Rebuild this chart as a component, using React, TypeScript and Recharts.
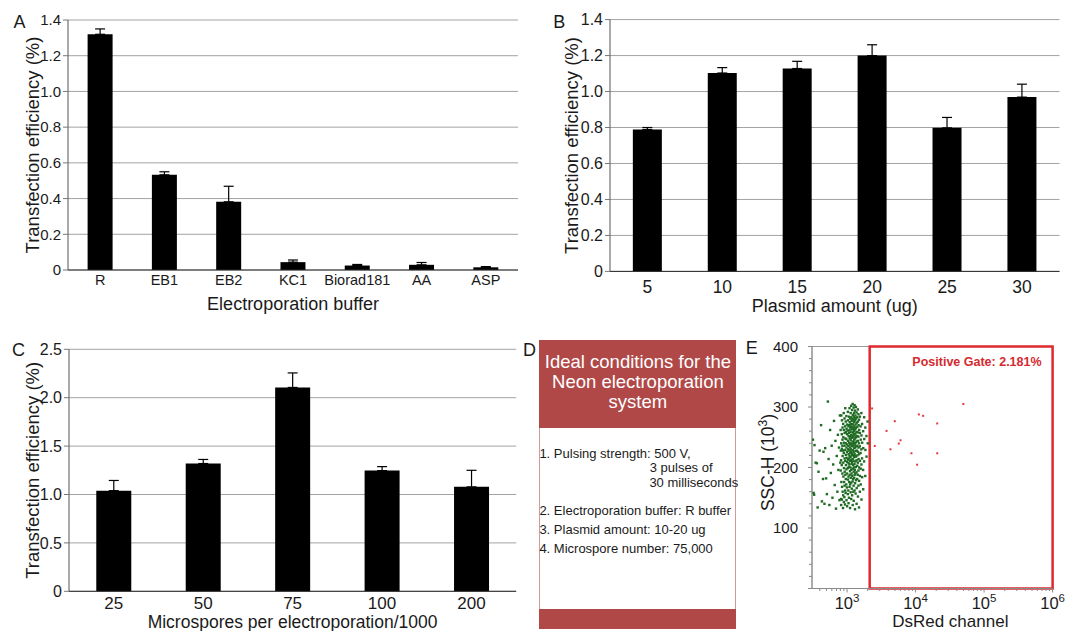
import React from 'react';
import {
  BarChart,
  Bar,
  XAxis,
  YAxis,
  CartesianGrid,
  ErrorBar,
  Label,
  ScatterChart,
  Scatter,
  ReferenceArea,
} from 'recharts';

const FONT = '"Liberation Sans", Arial, Helvetica, sans-serif';
const INK = '#1a1a1a';

// A - electroporation buffer
const bufferNames = ['R', 'EB1', 'EB2', 'KC1', 'Biorad181', 'AA', 'ASP'];
const bufferMeans = [1.32, 0.533, 0.382, 0.044, 0.025, 0.029, 0.015];
const bufferErrors = [0.03, 0.017, 0.087, 0.012, 0.006, 0.013, 0.004];

// B - plasmid amount
const plasmidAmounts = ['5', '10', '15', '20', '25', '30'];
const plasmidMeans = [0.789, 1.103, 1.128, 1.2, 0.798, 0.969];
const plasmidErrors = [0.011, 0.03, 0.04, 0.06, 0.058, 0.072];

// C - microspores per electroporation
const microsporeCounts = ['25', '50', '75', '100', '200'];
const microsporeMeans = [1.04, 1.32, 2.106, 1.247, 1.079];
const microsporeErrors = [0.105, 0.042, 0.15, 0.041, 0.171];

const ticks14 = [0, 0.2, 0.4, 0.6, 0.8, 1.0, 1.2, 1.4];
const ticks25 = [0, 0.5, 1.0, 1.5, 2.0, 2.5];

// D - ideal conditions
const conditionsTitle = ['Ideal conditions for the', 'Neon electroporation', 'system'];

// E - flow cytometry (DsRed channel vs SSC-H)
const gateStart = 2140;
const gatePercent = '2.181%';
const sscTicks = [0, 20, 40, 60, 80, 100, 120, 140, 160, 180, 200, 220, 240, 260, 280, 300, 320, 340, 360, 380, 400];
const dsRedTicks = [
  400, 500, 600, 700, 800, 900, 1000,
  2000, 3000, 4000, 5000, 6000, 7000, 8000, 9000, 10000,
  20000, 30000, 40000, 50000, 60000, 70000, 80000, 90000, 100000,
  200000, 300000, 400000, 500000, 600000, 700000, 800000, 900000, 1000000,
];

const negativeEvents: [number, number][] = [
  // sparse left tail
  [318, 246], [325, 158], [331, 155], [335, 237], [348, 208], [363, 207], [372, 134], [383, 193],
  [398, 228], [418, 270], [430, 144], [446, 181], [453, 226], [468, 140], [480, 232], [495, 182],
  [508, 156], [525, 309], [538, 214], [552, 138], [566, 262], [580, 191], [597, 236], [612, 150],
  [628, 205], [645, 277], [661, 171], [676, 244], [690, 132], [708, 219], [722, 160], [735, 254],
  [748, 196], [762, 233], [775, 146], [786, 286], [798, 208],
  // dense core
  [806, 262], [812, 228], [809, 195], [815, 148],
  [822, 240], [818, 212], [826, 176], [820, 138], [824, 286],
  [838, 255], [842, 231], [836, 204], [845, 168], [840, 147], [843, 278],
  [858, 246], [862, 219], [856, 190], [864, 160], [860, 266], [855, 236],
  [878, 272], [883, 250], [876, 228], [881, 208], [885, 185], [879, 154], [874, 133],
  [898, 262], [903, 241], [896, 224], [902, 199], [905, 176], [899, 143], [894, 290],
  [918, 281], [923, 257], [916, 236], [921, 215], [925, 193], [919, 170], [914, 151],
  [938, 268], [943, 248], [936, 229], [941, 211], [945, 188], [939, 162], [934, 139], [942, 298],
  [958, 276], [963, 259], [956, 240], [961, 221], [965, 204], [959, 181], [954, 158],
  [978, 285], [983, 264], [976, 247], [981, 233], [985, 216], [979, 197], [974, 172], [982, 146],
  [998, 271], [1003, 255], [996, 238], [1001, 226], [1005, 209], [999, 190], [994, 167], [1002, 136],
  [1028, 292], [1033, 278], [1026, 261], [1031, 244], [1035, 230], [1029, 213], [1024, 199], [1032, 180], [1027, 156],
  [1048, 268], [1053, 252], [1046, 236], [1051, 222], [1055, 207], [1049, 185], [1044, 162], [1052, 141],
  [1068, 284], [1073, 270], [1066, 257], [1071, 241], [1075, 228], [1069, 215], [1064, 201], [1072, 176], [1067, 150],
  [1088, 298], [1093, 275], [1086, 262], [1091, 248], [1095, 233], [1089, 219], [1084, 205], [1092, 188], [1087, 168],
  [1108, 281], [1113, 266], [1106, 251], [1111, 238], [1115, 224], [1109, 211], [1104, 194], [1112, 172], [1107, 133],
  [1128, 290], [1133, 272], [1126, 259], [1131, 245], [1135, 230], [1129, 217], [1124, 200], [1132, 183], [1127, 159],
  [1148, 302], [1153, 283], [1146, 268], [1151, 254], [1155, 240], [1149, 226], [1144, 212], [1152, 196], [1147, 175], [1150, 148],
  [1168, 277], [1173, 263], [1166, 249], [1171, 235], [1175, 221], [1169, 206], [1164, 190], [1172, 165],
  [1188, 295], [1193, 280], [1186, 266], [1191, 252], [1195, 238], [1189, 223], [1184, 209], [1192, 186], [1187, 154],
  [1208, 305], [1213, 287], [1206, 272], [1211, 258], [1215, 243], [1209, 229], [1204, 214], [1212, 198], [1207, 177], [1210, 138],
  [1228, 279], [1233, 264], [1226, 250], [1231, 236], [1235, 220], [1229, 204], [1224, 181], [1232, 160],
  [1248, 299], [1253, 284], [1246, 269], [1251, 255], [1255, 241], [1249, 226], [1244, 211], [1252, 193], [1247, 170], [1250, 145],
  [1268, 290], [1273, 275], [1266, 260], [1271, 246], [1275, 232], [1269, 217], [1264, 200], [1272, 183],
  [1288, 303], [1293, 282], [1286, 267], [1291, 253], [1295, 238], [1289, 222], [1284, 206], [1292, 188], [1287, 162],
  [1308, 294], [1313, 278], [1306, 263], [1311, 248], [1315, 233], [1309, 219], [1304, 196], [1312, 174], [1307, 131],
  [1328, 286], [1333, 271], [1326, 256], [1331, 241], [1335, 227], [1329, 210], [1324, 190], [1332, 157],
  [1348, 300], [1353, 281], [1346, 265], [1351, 250], [1355, 235], [1349, 218], [1344, 201], [1352, 179],
  [1378, 291], [1383, 274], [1376, 259], [1381, 243], [1385, 228], [1379, 212], [1374, 192], [1382, 166], [1377, 140],
  [1408, 283], [1413, 267], [1406, 252], [1411, 236], [1415, 220], [1409, 203], [1404, 181],
  [1438, 296], [1443, 276], [1436, 258], [1441, 244], [1445, 226], [1439, 208], [1434, 188], [1442, 152],
  [1468, 288], [1473, 270], [1466, 251], [1471, 233], [1475, 214], [1469, 195], [1464, 170],
  [1498, 279], [1503, 262], [1496, 240], [1501, 222], [1505, 200], [1499, 178], [1494, 134],
  [1538, 284], [1543, 257], [1536, 235], [1541, 211], [1545, 186], [1539, 160],
  [1578, 268], [1583, 246], [1576, 224], [1581, 198], [1585, 172],
  [1618, 290], [1623, 253], [1616, 230], [1621, 205], [1625, 147],
  [1658, 272], [1663, 241], [1656, 215], [1661, 184],
  [1718, 260], [1723, 232], [1716, 196], [1721, 164],
  [1778, 283], [1783, 247], [1776, 210],
  [1848, 266], [1853, 229], [1846, 186],
  [1918, 252], [1923, 218],
  [1995, 276], [2005, 240],
];

const positiveEvents: [number, number][] = [
  [2320, 297.6], [49800, 304.9], [11170, 287.7], [12900, 285.4], [20700, 272.8],
  [4980, 276.6], [3770, 260.5], [6030, 245.0], [5690, 239.5], [2540, 235.6],
  [4300, 230.1], [8710, 223.5], [20700, 223.5], [10540, 204.6],
];

const bufferData = bufferNames.map((name, i) => ({ name, mean: bufferMeans[i], err: [0, bufferErrors[i]] }));
const plasmidData = plasmidAmounts.map((name, i) => ({ name, mean: plasmidMeans[i], err: [0, plasmidErrors[i]] }));
const microsporeData = microsporeCounts.map((name, i) => ({ name, mean: microsporeMeans[i], err: [0, microsporeErrors[i]] }));
const negativeData = negativeEvents.map(([x, y]) => ({ x, y }));
const positiveData = positiveEvents.map(([x, y]) => ({ x, y }));

const fmtTick = (v: number) => (v === 0 ? '0' : v.toFixed(1));

function EfficiencyBars(props: any) {
  const {
    data, width, height, margin, yAxisWidth, yTicks, xAxisHeight,
    xTickFont, xTickGap, yTickFont, xTitle, xTitleOffset, xTitleFont, yTitleX,
  } = props;
  return (
    <BarChart width={width} height={height} data={data} margin={margin} barCategoryGap="30.5%">
      <CartesianGrid vertical={false} stroke="#a3a3a3" />
      <XAxis
        dataKey="name"
        interval={0}
        height={xAxisHeight}
        tickLine={false}
        tickSize={0}
        tickMargin={xTickGap}
        axisLine={{ stroke: '#2b2b2b' }}
        tick={{ fill: INK, fontSize: xTickFont, fontFamily: FONT }}
      >
        <Label value={xTitle} position="insideBottom" offset={xTitleOffset} fontSize={xTitleFont} fill={INK} fontFamily={FONT} />
      </XAxis>
      <YAxis
        type="number"
        width={yAxisWidth}
        domain={[0, yTicks[yTicks.length - 1]]}
        ticks={yTicks}
        interval={0}
        tickFormatter={fmtTick}
        tickSize={5}
        tickMargin={2}
        axisLine={{ stroke: '#555' }}
        tickLine={{ stroke: '#777' }}
        tick={{ fill: INK, fontSize: yTickFont, fontFamily: FONT }}
      >
        <Label
          value="Transfection efficiency (%)"
          angle={-90}
          position="insideLeft"
          offset={yTitleX}
          fontSize={18.5}
          fill={INK}
          fontFamily={FONT}
          style={{ textAnchor: 'middle' }}
        />
      </YAxis>
      <Bar dataKey="mean" fill="#000" isAnimationActive={false}>
        <ErrorBar dataKey="err" direction="y" width={5} stroke="#000" strokeWidth={1.2} />
      </Bar>
    </BarChart>
  );
}

const LogTick = (props: any) => {
  const { x, y, payload } = props;
  const lg = Math.log10(payload.value);
  const exp = Math.round(lg);
  const major = Math.abs(lg - exp) < 1e-6;
  return (
    <g>
      <line x1={x} y1={y} x2={x} y2={y + (major ? 4 : 2.5)} stroke="#888" />
      {major && (
        <text x={x} y={y + 20} textAnchor="middle" fontSize={16.5} fill={INK} fontFamily={FONT}>
          10<tspan dy={-7} fontSize={11.5}>{exp}</tspan>
        </text>
      )}
    </g>
  );
};

const SscTick = (props: any) => {
  const { x, y, payload } = props;
  const v = payload.value;
  const major = v % 100 === 0;
  return (
    <g>
      <line x1={x - (major ? 4 : 3)} y1={y} x2={x} y2={y} stroke="#888" />
      {major && v > 0 && (
        <text x={x - 14} y={y} dy="0.36em" textAnchor="end" fontSize={15} fill={INK} fontFamily={FONT}>
          {v}
        </text>
      )}
    </g>
  );
};

const SscLabel = (props: any) => {
  const vb = props.viewBox || { x: 0, y: 0, height: 0 };
  const cx = vb.x + 28;
  const cy = vb.y + vb.height / 2 - 5;
  return (
    <text
      x={cx}
      y={cy}
      transform={`rotate(-90, ${cx}, ${cy})`}
      textAnchor="middle"
      dy="0.36em"
      fontSize={17.5}
      fill={INK}
      fontFamily={FONT}
    >
      SSC-H (10<tspan dy={-7} fontSize={12}>3</tspan>
      <tspan dy={7}>)</tspan>
    </text>
  );
};

const DsRedLabel = (props: any) => {
  const vb = props.viewBox || { x: 0, y: 0, width: 0, height: 0 };
  return (
    <text
      x={vb.x + vb.width / 2 + 18}
      y={vb.y + vb.height - 4}
      textAnchor="middle"
      fontSize={17}
      fill={INK}
      fontFamily={FONT}
    >
      DsRed channel
    </text>
  );
};

const greenDot = (p: any) => <rect x={p.cx - 1.2} y={p.cy - 1.2} width={2.4} height={2.4} fill="#1f6b23" />;
const redDot = (p: any) => <rect x={p.cx - 1} y={p.cy - 1} width={2} height={2} fill="#e23b3f" />;

const PanelLetter = ({ text, x, y }: { text: string; x: number; y: number }) => (
  <div
    style={{
      position: 'absolute',
      left: x,
      top: y,
      transform: 'translate(-50%, -50%)',
      fontSize: 18,
      lineHeight: 1,
      fontFamily: FONT,
      color: INK,
    }}
  >
    {text}
  </div>
);

const bodyLines = [
  { text: '1. Pulsing strength: 500 V,', x: 0, y: 454.4 },
  { text: '3 pulses of', x: 110.3, y: 468.3 },
  { text: '30 milliseconds', x: 110, y: 483.3 },
  { text: '2. Electroporation buffer: R buffer', x: 0, y: 510.6 },
  { text: '3. Plasmid amount: 10-20 ug', x: 0, y: 530 },
  { text: '4. Microspore number: 75,000', x: 0, y: 549 },
];

export default function App() {
  return (
    <div
      style={{
        position: 'absolute',
        left: 0,
        top: 0,
        width: 1067,
        height: 631,
        background: '#fff',
        overflow: 'hidden',
        fontFamily: FONT,
      }}
    >
      {/* A */}
      <div style={{ position: 'absolute', left: 0, top: 0 }}>
        <EfficiencyBars
          data={bufferData}
          width={530}
          height={320}
          margin={{ top: 20, right: 12, bottom: 0, left: 0 }}
          yAxisWidth={68}
          yTicks={ticks14}
          xAxisHeight={50}
          xTickFont={14.5}
          xTickGap={5}
          yTickFont={15}
          xTitle="Electroporation buffer"
          xTitleOffset={10.5}
          xTitleFont={18}
          yTitleX={32.7}
        />
      </div>

      {/* B */}
      <div style={{ position: 'absolute', left: 530, top: 0 }}>
        <EfficiencyBars
          data={plasmidData}
          width={537}
          height={320}
          margin={{ top: 19.6, right: 7.5, bottom: 0, left: 0 }}
          yAxisWidth={80}
          yTicks={ticks14}
          xAxisHeight={48.6}
          xTickFont={17.5}
          xTickGap={9.5}
          yTickFont={16}
          xTitle="Plasmid amount (ug)"
          xTitleOffset={8.5}
          xTitleFont={18}
          yTitleX={41.3}
        />
      </div>

      {/* C */}
      <div style={{ position: 'absolute', left: 0, top: 330 }}>
        <EfficiencyBars
          data={microsporeData}
          width={530}
          height={301}
          margin={{ top: 19.3, right: 13.8, bottom: 0, left: 0 }}
          yAxisWidth={69}
          yTicks={ticks25}
          xAxisHeight={39.7}
          xTickFont={17}
          xTickGap={6}
          yTickFont={16}
          xTitle="Microspores per electroporation/1000"
          xTitleOffset={3.5}
          xTitleFont={17.5}
          yTitleX={32}
        />
      </div>

      {/* D */}
      <div
        style={{
          position: 'absolute',
          left: 539.4,
          top: 340,
          width: 197,
          height: 288.7,
          boxSizing: 'border-box',
          border: '1px solid #cf9a98',
          background: '#fff',
        }}
      >
        <div
          style={{
            position: 'absolute',
            left: -1,
            top: -1,
            width: 197,
            height: 87.7,
            background: '#b04848',
            color: '#fff',
            fontSize: 18.5,
            lineHeight: '20px',
            textAlign: 'center',
            paddingTop: 11.8,
            boxSizing: 'border-box',
            whiteSpace: 'nowrap',
          }}
        >
          {conditionsTitle.map((t) => (
            <div key={t}>{t}</div>
          ))}
        </div>
        {bodyLines.map((l) => (
          <div
            key={l.text}
            style={{
              position: 'absolute',
              left: l.x - 1,
              top: l.y - 340 - 6 - 1,
              fontSize: 13,
              lineHeight: '12px',
              color: INK,
              whiteSpace: 'nowrap',
            }}
          >
            {l.text}
          </div>
        ))}
        <div
          style={{
            position: 'absolute',
            left: -1,
            bottom: -1,
            width: 197,
            height: 20.1,
            background: '#b04848',
          }}
        />
      </div>

      {/* E */}
      <div style={{ position: 'absolute', left: 740, top: 330 }}>
        <ScatterChart width={327} height={301} margin={{ top: 16.5, right: 14.4, bottom: 0, left: 0 }}>
          <XAxis
            type="number"
            dataKey="x"
            scale="log"
            domain={[308, 1000000]}
            allowDataOverflow
            ticks={dsRedTicks}
            interval={0}
            height={42.5}
            tickLine={false}
            tickSize={0}
            tickMargin={0}
            axisLine={{ stroke: '#8a8a8a' }}
            tick={<LogTick />}
          >
            <Label content={<DsRedLabel />} />
          </XAxis>
          <YAxis
            type="number"
            dataKey="y"
            domain={[0, 400]}
            ticks={sscTicks}
            interval={0}
            width={72}
            tickLine={false}
            tickSize={0}
            tickMargin={0}
            axisLine={{ stroke: '#8a8a8a' }}
            tick={<SscTick />}
          >
            <Label content={<SscLabel />} />
          </YAxis>
          <ReferenceArea x1={308} x2={1000000} y1={0} y2={400} fill="none" fillOpacity={0} stroke="#9a9a9a" />
          <Scatter data={negativeData} fill="#1f6b23" shape={greenDot} isAnimationActive={false} />
          <Scatter data={positiveData} fill="#e23b3f" shape={redDot} isAnimationActive={false} />
          <ReferenceArea
            x1={gateStart}
            x2={1000000}
            y1={0}
            y2={400}
            fill="none"
            fillOpacity={0}
            stroke="#de2a2f"
            strokeWidth={2.5}
            label={{
              value: `Positive Gate: ${gatePercent}`,
              position: 'insideTopRight',
              offset: 11,
              fill: '#d42a30',
              fontSize: 12.5,
              fontWeight: 700,
              fontFamily: FONT,
            }}
          />
        </ScatterChart>
      </div>

      <PanelLetter text="A" x={19.6} y={22.4} />
      <PanelLetter text="B" x={559.3} y={22.4} />
      <PanelLetter text="C" x={18.6} y={350.3} />
      <PanelLetter text="D" x={529.5} y={350} />
      <PanelLetter text="E" x={751.7} y={347.7} />
    </div>
  );
}
